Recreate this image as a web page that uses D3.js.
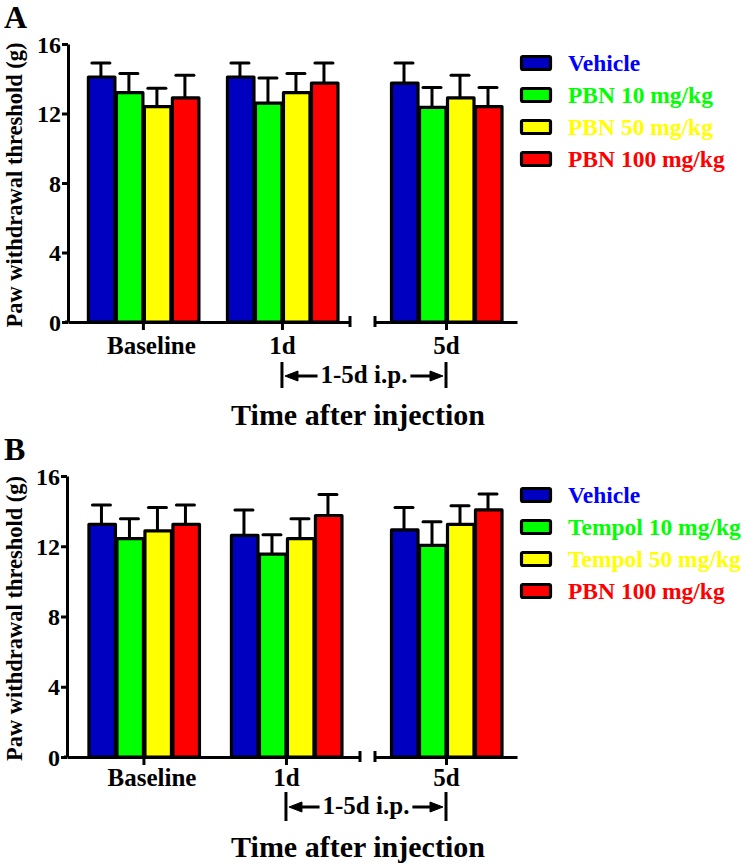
<!DOCTYPE html>
<html>
<head>
<meta charset="utf-8">
<script src="https://cdn.jsdelivr.net/npm/d3@7"></script>
<style>
  html, body { margin: 0; padding: 0; background: #fff; }
  svg { display: block; }
  svg text { font-family: "Liberation Serif", "Times New Roman", Times, "DejaVu Serif", serif !important; font-weight: bold; }
</style>
</head>
<body>
<svg id="chart" width="750" height="866"></svg>
<script>
// ---------------- DATA ----------------
const categories = ["Baseline", "1d", "5d"];
const yTicks = [0, 4, 8, 12, 16];

const seriesA = ["Vehicle", "PBN 10 mg/kg", "PBN 50 mg/kg", "PBN 100 mg/kg"];
const meansA_vehicle = [14.1, 14.1, 13.75];
const semA_vehicle   = [0.8, 0.8, 1.15];
const meansA_pbn10   = [13.2, 12.6, 12.35];
const semA_pbn10     = [1.1, 1.45, 1.15];
const meansA_pbn50   = [12.4, 13.2, 12.9];
const semA_pbn50     = [1.05, 1.1, 1.3];
const meansA_pbn100  = [12.9, 13.75, 12.4];
const semA_pbn100    = [1.3, 1.15, 1.1];

const seriesB = ["Vehicle", "Tempol 10 mg/kg", "Tempol 50 mg/kg", "PBN 100 mg/kg"];
const meansB_vehicle  = [13.25, 12.62, 12.93];
const semB_vehicle    = [1.1, 1.45, 1.27];
const meansB_tempol10 = [12.43, 11.55, 12.05];
const semB_tempol10   = [1.13, 1.1, 1.35];
const meansB_tempol50 = [12.88, 12.43, 13.25];
const semB_tempol50   = [1.32, 1.13, 1.05];
const meansB_pbn100   = [13.25, 13.75, 14.07];
const semB_pbn100     = [1.1, 1.2, 0.9];

const barColors  = ["#0000C0", "#00FF00", "#FFFF00", "#FF0000"];
const textColors = ["#0000FF", "#00FF00", "#FFFF00", "#FF0000"];

const yTitle = "Paw withdrawal threshold (g)";
const xTitle = "Time after injection";
const bracketLabel = "1-5d i.p.";

// ---------------- DRAW ----------------
const FONT = '"Liberation Serif", "Times New Roman", Times, "DejaVu Serif", serif';
const svg = d3.select("#chart");
svg.append("rect").attr("width", 750).attr("height", 866).attr("fill", "#fff");

function drawPanel(cfg) {
  const g = svg.append("g").attr("font-family", FONT).attr("font-weight", "bold");
  const y = d3.scaleLinear().domain([0, 16]).range([cfg.y0, cfg.y16]);

  const xs1 = d3.scalePoint().domain(categories.slice(0, 2)).range(cfg.seg1).padding(cfg.pad1).align(cfg.align1);
  const xs2 = d3.scalePoint().domain(categories.slice(2)).range(cfg.seg2).padding(0.5).align(cfg.align2);
  const xc = c => (categories.indexOf(c) < 2 ? xs1(c) : xs2(c));
  const inner = d3.scaleBand().domain(cfg.series).range([-56, 56]).paddingInner(0);

  const rows = [];
  categories.forEach((c, ci) => {
    cfg.series.forEach((s, si) => {
      rows.push({ c, s, si, v: cfg.means[si][ci], e: cfg.sems[si][ci] });
    });
  });

  // error bars
  const eb = g.append("g").attr("stroke", "#000").attr("stroke-width", 3);
  rows.forEach(r => {
    const cx = xc(r.c) + inner(r.s) + inner.bandwidth() / 2;
    eb.append("line").attr("x1", cx).attr("x2", cx).attr("y1", y(r.v)).attr("y2", y(r.v + r.e));
    eb.append("line").attr("x1", cx - 9).attr("x2", cx + 9).attr("y1", y(r.v + r.e)).attr("y2", y(r.v + r.e))
      .attr("stroke-linecap", "round");
  });

  // bars
  g.append("g").selectAll("rect").data(rows).join("rect")
    .attr("x", d => xc(d.c) + inner(d.s) + 1.5)
    .attr("width", inner.bandwidth() - 1.5)
    .attr("y", d => y(d.v))
    .attr("height", d => y(0) - y(d.v))
    .attr("fill", d => barColors[d.si])
    .attr("stroke", "#000").attr("stroke-width", 3.2).attr("stroke-linejoin", "round");

  // y axis
  const ya = g.append("g").attr("transform", `translate(${cfg.axisX},0)`)
    .call(d3.axisLeft(y).tickValues(yTicks).tickSize(6).tickSizeOuter(0).tickPadding(1).tickFormat(d3.format("d")));
  ya.attr("font-family", FONT).attr("font-size", 24);
  ya.select(".domain").attr("stroke-width", 3);
  ya.selectAll(".tick line").attr("stroke-width", 3);
  ya.selectAll(".tick text").attr("font-weight", "bold").attr("dy", "0.34em");

  // x axis segments
  [xs1, xs2].forEach(sc => {
    const xa = g.append("g").attr("transform", `translate(0,${cfg.y0})`)
      .call(d3.axisBottom(sc).tickSize(8).tickSizeOuter(0).tickPadding(cfg.xPad));
    xa.attr("font-family", FONT).attr("font-size", 25);
    xa.select(".domain").attr("stroke-width", 3);
    xa.selectAll(".tick line").attr("stroke-width", 3);
    xa.selectAll(".tick text").attr("font-weight", "bold")
      .attr("dx", d => d === "Baseline" ? 8 : 0);
  });
  // break marks
  [cfg.seg1[1], cfg.seg2[0]].forEach(bx => {
    g.append("line").attr("x1", bx).attr("x2", bx).attr("y1", cfg.y0 - 6).attr("y2", cfg.y0 + 5)
      .attr("stroke", "#000").attr("stroke-width", 3);
  });
  g.append("line").attr("x1", cfg.axisX - 3).attr("x2", cfg.seg1[0]).attr("y1", cfg.y0).attr("y2", cfg.y0)
    .attr("stroke", "#000").attr("stroke-width", 3);

  // bracket
  const bx1 = xc("1d"), bx2 = xc("5d");
  const br = g.append("g").attr("stroke", "#000").attr("stroke-width", 3).attr("fill", "#000");
  br.append("line").attr("x1", bx1).attr("x2", bx1).attr("y1", cfg.brTop).attr("y2", cfg.brBot);
  br.append("line").attr("x1", bx2).attr("x2", bx2).attr("y1", cfg.brTop).attr("y2", cfg.brBot);
  const ay = cfg.arrowY;
  const bt = g.append("text").attr("x", (bx1 + bx2) / 2).attr("y", ay + 7).attr("text-anchor", "middle")
    .attr("font-size", 25).text(bracketLabel);
  const tw = bt.node().getComputedTextLength();
  const tl = (bx1 + bx2) / 2 - tw / 2 - 3, tr = (bx1 + bx2) / 2 + tw / 2 + 3;
  br.append("line").attr("x1", bx1 + 12).attr("x2", tl).attr("y1", ay).attr("y2", ay);
  br.append("line").attr("x1", tr).attr("x2", bx2 - 12).attr("y1", ay).attr("y2", ay);
  br.append("path").attr("stroke-width", 1).attr("d", `M${bx1 + 3},${ay} L${bx1 + 16},${ay - 5} L${bx1 + 16},${ay + 5} Z`);
  br.append("path").attr("stroke-width", 1).attr("d", `M${bx2 - 3},${ay} L${bx2 - 16},${ay - 5} L${bx2 - 16},${ay + 5} Z`);

  // x title
  g.append("text").attr("x", 358).attr("y", cfg.xTitleY).attr("text-anchor", "middle")
    .attr("font-size", 30).text(xTitle);

  // y title
  g.append("text").attr("transform", `translate(22,${(cfg.y0 + cfg.y16) / 2 + 2}) rotate(-90)`)
    .attr("text-anchor", "middle").attr("font-size", 22.5).text(yTitle);

  // panel letter
  g.append("text").attr("x", 4).attr("y", cfg.letterY).attr("font-size", 32).text(cfg.letter);

  // legend
  const lg = g.append("g");
  cfg.series.forEach((s, i) => {
    const cy = cfg.legY + i * 32;
    lg.append("rect").attr("x", 521.5).attr("y", cy - 6.5).attr("width", 29).attr("height", 13)
      .attr("fill", barColors[i]).attr("stroke", "#000").attr("stroke-width", 3.2).attr("rx", 1.5);
    lg.append("text").attr("x", 568).attr("y", cy + 8).attr("font-size", 23.5)
      .attr("fill", textColors[i]).text(s);
  });
}

drawPanel({
  letter: "A", letterY: 28,
  series: seriesA,
  means: [meansA_vehicle, meansA_pbn10, meansA_pbn50, meansA_pbn100],
  sems: [semA_vehicle, semA_pbn10, semA_pbn50, semA_pbn100],
  y0: 322, y16: 44, axisX: 68,
  seg1: [68, 350], pad1: 0.514, align1: 0.524,
  seg2: [375, 517], align2: 0.5,
  xPad: 6,
  brTop: 362, brBot: 388, arrowY: 376,
  xTitleY: 425,
  legY: 63
});

drawPanel({
  letter: "B", letterY: 460,
  series: seriesB,
  means: [meansB_vehicle, meansB_tempol10, meansB_tempol50, meansB_pbn100],
  sems: [semB_vehicle, semB_tempol10, semB_tempol50, semB_pbn100],
  y0: 757, y16: 476, axisX: 67,
  seg1: [67, 360], pad1: 0.528, align1: 0.508,
  seg2: [375, 517], align2: 0.5,
  xPad: 3,
  brTop: 792, brBot: 821, arrowY: 807,
  xTitleY: 857,
  legY: 495
});
</script>
</body>
</html>
